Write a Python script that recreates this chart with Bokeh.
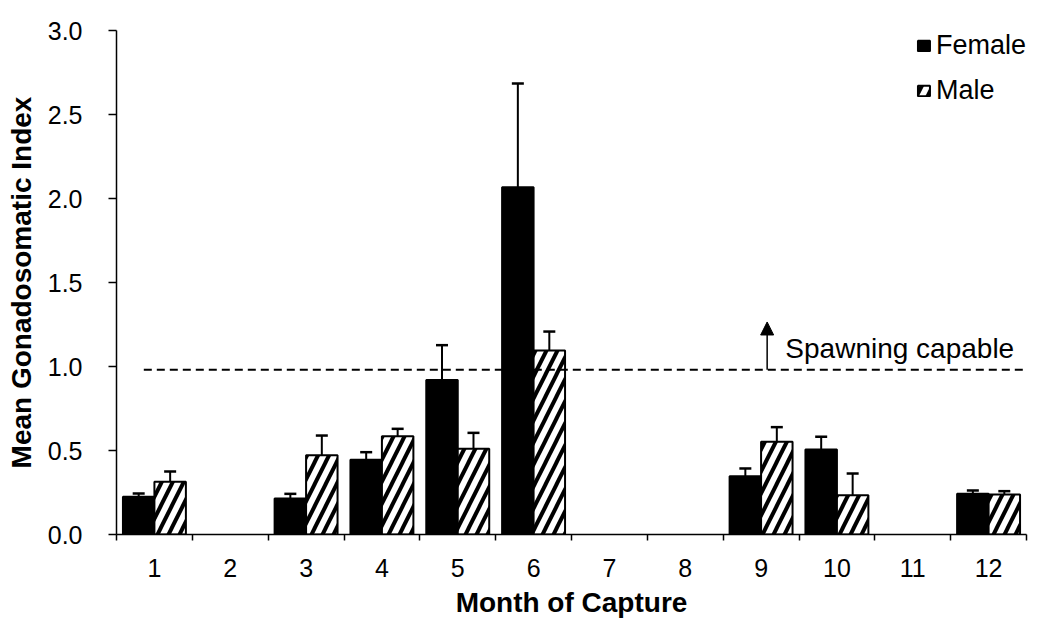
import numpy as np
from bokeh.plotting import figure
from bokeh.models import (ColumnDataSource, Whisker, TeeHead, FixedTicker, NumeralTickFormatter,
                          Range1d, Arrow, NormalHead, Label, Legend, LegendItem)
from bokeh.embed import file_html
from bokeh.resources import INLINE

# ---- data ----
months = [1, 2, 3, 4, 5, 6, 7, 8, 9, 10, 11, 12]
female_mean = [0.224, None, 0.214, 0.445, 0.920, 2.067, None, None, 0.347, 0.506, None, 0.242]
female_se = [0.020, None, 0.028, 0.045, 0.207, 0.618, None, None, 0.046, 0.076, None, 0.020]
male_mean = [0.314, None, 0.472, 0.585, 0.510, 1.095, None, None, 0.552, 0.234, None, 0.238]
male_se = [0.061, None, 0.117, 0.044, 0.095, 0.113, None, None, 0.087, 0.129, None, 0.020]
threshold = 0.98
threshold_label = "Spawning capable"
y_ticks = [0.0, 0.5, 1.0, 1.5, 2.0, 2.5, 3.0]

FONT = "Liberation Sans"
bar_w = 0.415
off = bar_w / 2


def make_source(means, ses, shift):
    xs, tops, up, lo = [], [], [], []
    for m, v, e in zip(months, means, ses):
        if v is None:
            continue
        xs.append(m + shift)
        tops.append(v)
        up.append(v + e)
        lo.append(v - e)
    return ColumnDataSource(dict(x=xs, top=tops, upper=up, lower=lo))


fsrc = make_source(female_mean, female_se, -off)
msrc = make_source(male_mean, male_se, off)

p = figure(width=1029, height=621, output_backend="svg", toolbar_location=None,
           x_range=Range1d(0.5, 12.5), y_range=Range1d(0, 3.0),
           min_border_left=116, min_border_right=3, min_border_top=30, min_border_bottom=87)
p.outline_line_color = None
p.grid.visible = False
p.background_fill_color = "white"
p.border_fill_color = "white"

rf = p.vbar(x="x", top="top", width=bar_w, source=fsrc, fill_color="black",
            line_color="black", line_width=2)
rm = p.vbar(x="x", top="top", width=bar_w, source=msrc, fill_color="white",
            line_color="black", line_width=2, hatch_pattern="/", hatch_color="black",
            hatch_weight=4, hatch_scale=22)

for src in (fsrc, msrc):
    w = Whisker(source=src, base="x", upper="upper", lower="lower", line_color="black",
                line_width=2,
                upper_head=TeeHead(size=12, line_width=2.5, line_color="black"),
                lower_head=TeeHead(size=12, line_width=2.5, line_color="black"))
    p.add_layout(w)

# threshold dashed line
p.segment(x0=[0.86], x1=[12.5], y0=[threshold], y1=[threshold], line_color="black",
          line_width=2, line_dash="8 5")
arrow_x = 9.08
p.add_layout(Arrow(x_start=arrow_x, y_start=threshold, x_end=arrow_x, y_end=1.265,
                   line_width=1.5, line_color="black",
                   end=NormalHead(size=13, fill_color="black", line_color="black")))
p.add_layout(Label(x=arrow_x + 0.24, y=1.105, text=threshold_label, text_font=FONT,
                   text_font_size="28px", text_color="black", text_baseline="alphabetic"))

# axes
xa = p.xaxis[0]
xa.ticker = FixedTicker(ticks=months, minor_ticks=[m + 0.5 for m in [0] + months])
xa.major_tick_line_color = None
xa.major_tick_out = 6
xa.minor_tick_out = 6
xa.minor_tick_in = 0
xa.minor_tick_line_color = "black"
xa.minor_tick_line_width = 1.5
xa.axis_line_width = 1.5
xa.major_label_text_font = FONT
xa.major_label_text_font_size = "25px"
xa.major_label_text_color = "black"
xa.major_label_standoff = 18
xa.axis_label = "Month of Capture"
xa.axis_label_text_font = FONT
xa.axis_label_text_font_style = "bold"
xa.axis_label_text_font_size = "28px"
xa.axis_label_text_color = "black"
xa.axis_label_standoff = 7

ya = p.yaxis[0]
ya.ticker = FixedTicker(ticks=y_ticks, minor_ticks=[])
ya.formatter = NumeralTickFormatter(format="0.0")
ya.major_tick_out = 8
ya.major_tick_in = 0
ya.major_tick_line_width = 1.5
ya.axis_line_width = 1.5
ya.major_label_text_font = FONT
ya.major_label_text_font_size = "25px"
ya.major_label_text_color = "black"
ya.major_label_standoff = 26
ya.axis_label = "Mean Gonadosomatic Index"
ya.axis_label_text_font = FONT
ya.axis_label_text_font_style = "bold"
ya.axis_label_text_font_size = "28px"
ya.axis_label_text_color = "black"
ya.axis_label_standoff = 8

legend = Legend(items=[LegendItem(label="Female", renderers=[rf]),
                       LegendItem(label="Male", renderers=[rm])],
                location="top_right", border_line_color=None, background_fill_alpha=0,
                label_text_font=FONT, label_text_font_size="27px", label_text_color="black",
                glyph_width=15, glyph_height=13, label_standoff=5, spacing=14,
                padding=0, margin=0)
p.add_layout(legend)

open("out.html", "w").write(file_html(p, INLINE))
